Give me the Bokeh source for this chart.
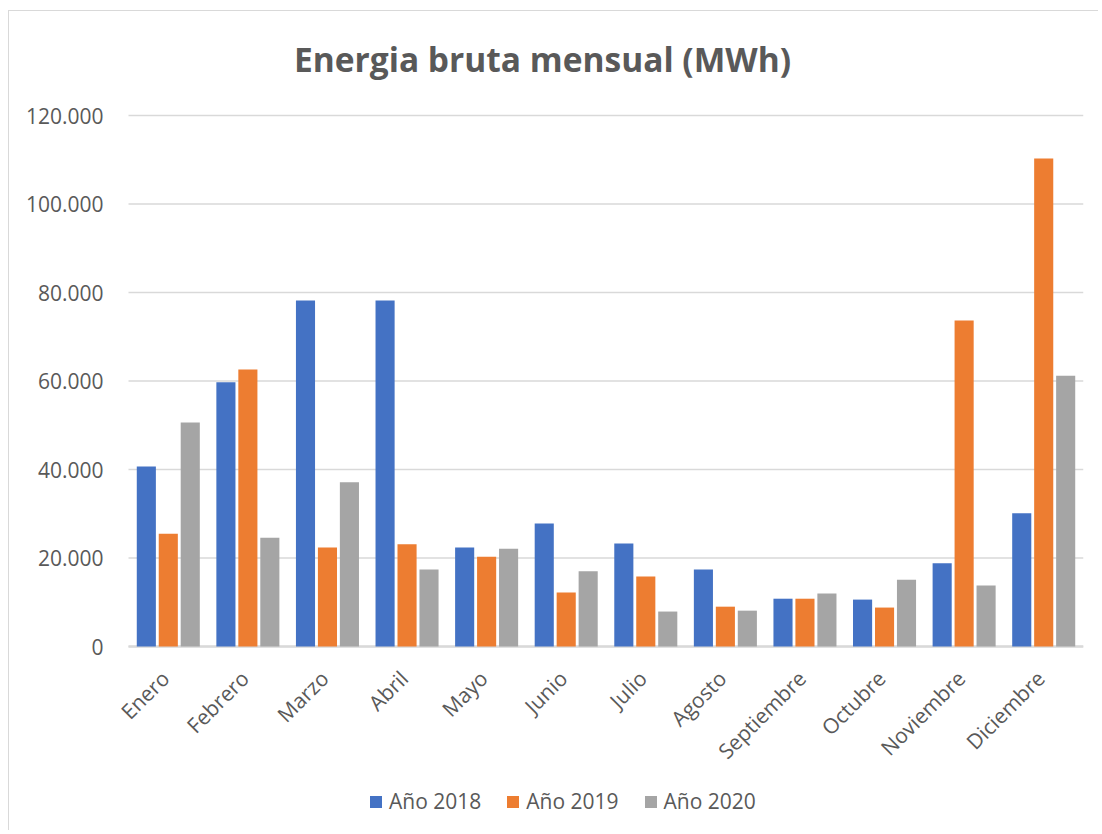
from bokeh.plotting import figure
from bokeh.models import ColumnDataSource, FixedTicker, Legend, LegendItem, Label, Range1d
from bokeh.core.properties import value
from bokeh.embed import file_html
from bokeh.resources import INLINE
import math

months = ["Enero", "Febrero", "Marzo", "Abril", "Mayo", "Junio", "Julio",
          "Agosto", "Septiembre", "Octubre", "Noviembre", "Diciembre"]
y2018 = [40700, 59700, 78200, 78200, 22400, 27800, 23300, 17400, 10800, 10600, 18800, 30100]
y2019 = [25500, 62600, 22400, 23100, 20300, 12200, 15800, 9000, 10800, 8800, 73700, 110300]
y2020 = [50600, 24600, 37100, 17400, 22100, 17000, 7900, 8100, 12000, 15100, 13800, 61200]
series_names = ["Año 2018", "Año 2019", "Año 2020"]
colors = ["#4472C4", "#ED7D31", "#A5A5A5"]
y_ticks = [0, 20000, 40000, 60000, 80000, 100000, 120000]
y_tick_labels = ["0", "20.000", "40.000", "60.000", "80.000", "100.000", "120.000"]
title_text = "Energia bruta mensual (MWh)"

FONT = "Open Sans"
TXT = "#595959"
GRID = "#d9d9d9"

# layout in pixels: 531 px for 0..120000, 104 px above, 185 px below
Y_MAX = 120000
PX_PLOT, PX_ABOVE, PX_BELOW = 531, 104, 185
y_lo = -PX_BELOW * Y_MAX / PX_PLOT
y_hi = Y_MAX + PX_ABOVE * Y_MAX / PX_PLOT
n = len(months)
x_lo = -19 / 79.58   # 19 px of room left of the first category

centers = [i + 0.5 for i in range(n)]
source = ColumnDataSource(dict(month=months, xc=centers, a=y2018, b=y2019, c=y2020,
                               zero=[0] * n))

p = figure(x_range=Range1d(x_lo, n), y_range=Range1d(y_lo, y_hi), width=1090, height=820,
           output_backend="svg", toolbar_location=None,
           min_border_left=100, min_border_right=16, min_border_top=0, min_border_bottom=0)
p.styles = {"margin-left": "8px", "margin-top": "10px",
            "border-left": "1px solid #d9d9d9", "border-top": "1px solid #d9d9d9"}
p.outline_line_color = None

# horizontal grid lines across the categories only
p.segment(x0=[0] * len(y_ticks), x1=[n] * len(y_ticks), y0=y_ticks, y1=y_ticks,
          line_color=GRID, line_width=1.5)
p.segment(x0=[0], x1=[n], y0=[0], y1=[0], line_color=GRID, line_width=2.5)

renderers = []
for key, off, col in zip(["a", "b", "c"], [-0.276, 0.0, 0.276], colors):
    src = ColumnDataSource(dict(x=[c + off for c in centers], top=source.data[key]))
    r = p.vbar(x="x", top="top", width=0.24, source=src, fill_color=col, line_color=None)
    renderers.append(r)

p.yaxis.ticker = FixedTicker(ticks=y_ticks)
p.yaxis.major_label_overrides = {t: l for t, l in zip(y_ticks, y_tick_labels)}
p.yaxis.axis_line_color = None
p.yaxis.major_tick_line_color = None
p.yaxis.minor_tick_line_color = None
p.yaxis.major_label_standoff = 0
p.yaxis.major_label_text_font = FONT
p.yaxis.major_label_text_font_size = "21px"
p.yaxis.major_label_text_color = TXT

p.xaxis.visible = False
p.xgrid.grid_line_color = None
p.ygrid.grid_line_color = None

# category labels along the zero line, rotated 45 degrees
p.text(x="xc", y="zero", text="month", source=source, angle=math.pi / 4,
       text_align="right", text_baseline="middle", x_offset=-3, y_offset=28,
       text_font=value(FONT), text_font_size="21px", text_color=TXT)

title = Label(x=433, y=773, x_units="screen", y_units="screen", text=title_text,
              text_font=FONT, text_font_style="bold", text_font_size="33.5px",
              text_color=TXT, text_align="center", text_baseline="middle")
p.add_layout(title)

legend = Legend(items=[LegendItem(label=s, renderers=[r]) for s, r in zip(series_names, renderers)],
                orientation="horizontal", location=(259, 16), padding=5,
                label_text_font=FONT, label_text_font_size="21px", label_text_color=TXT,
                glyph_width=15, glyph_height=15, spacing=24, label_standoff=6,
                border_line_color=None, background_fill_alpha=0)
p.add_layout(legend)

open("out.html", "w").write(file_html(p, INLINE))
